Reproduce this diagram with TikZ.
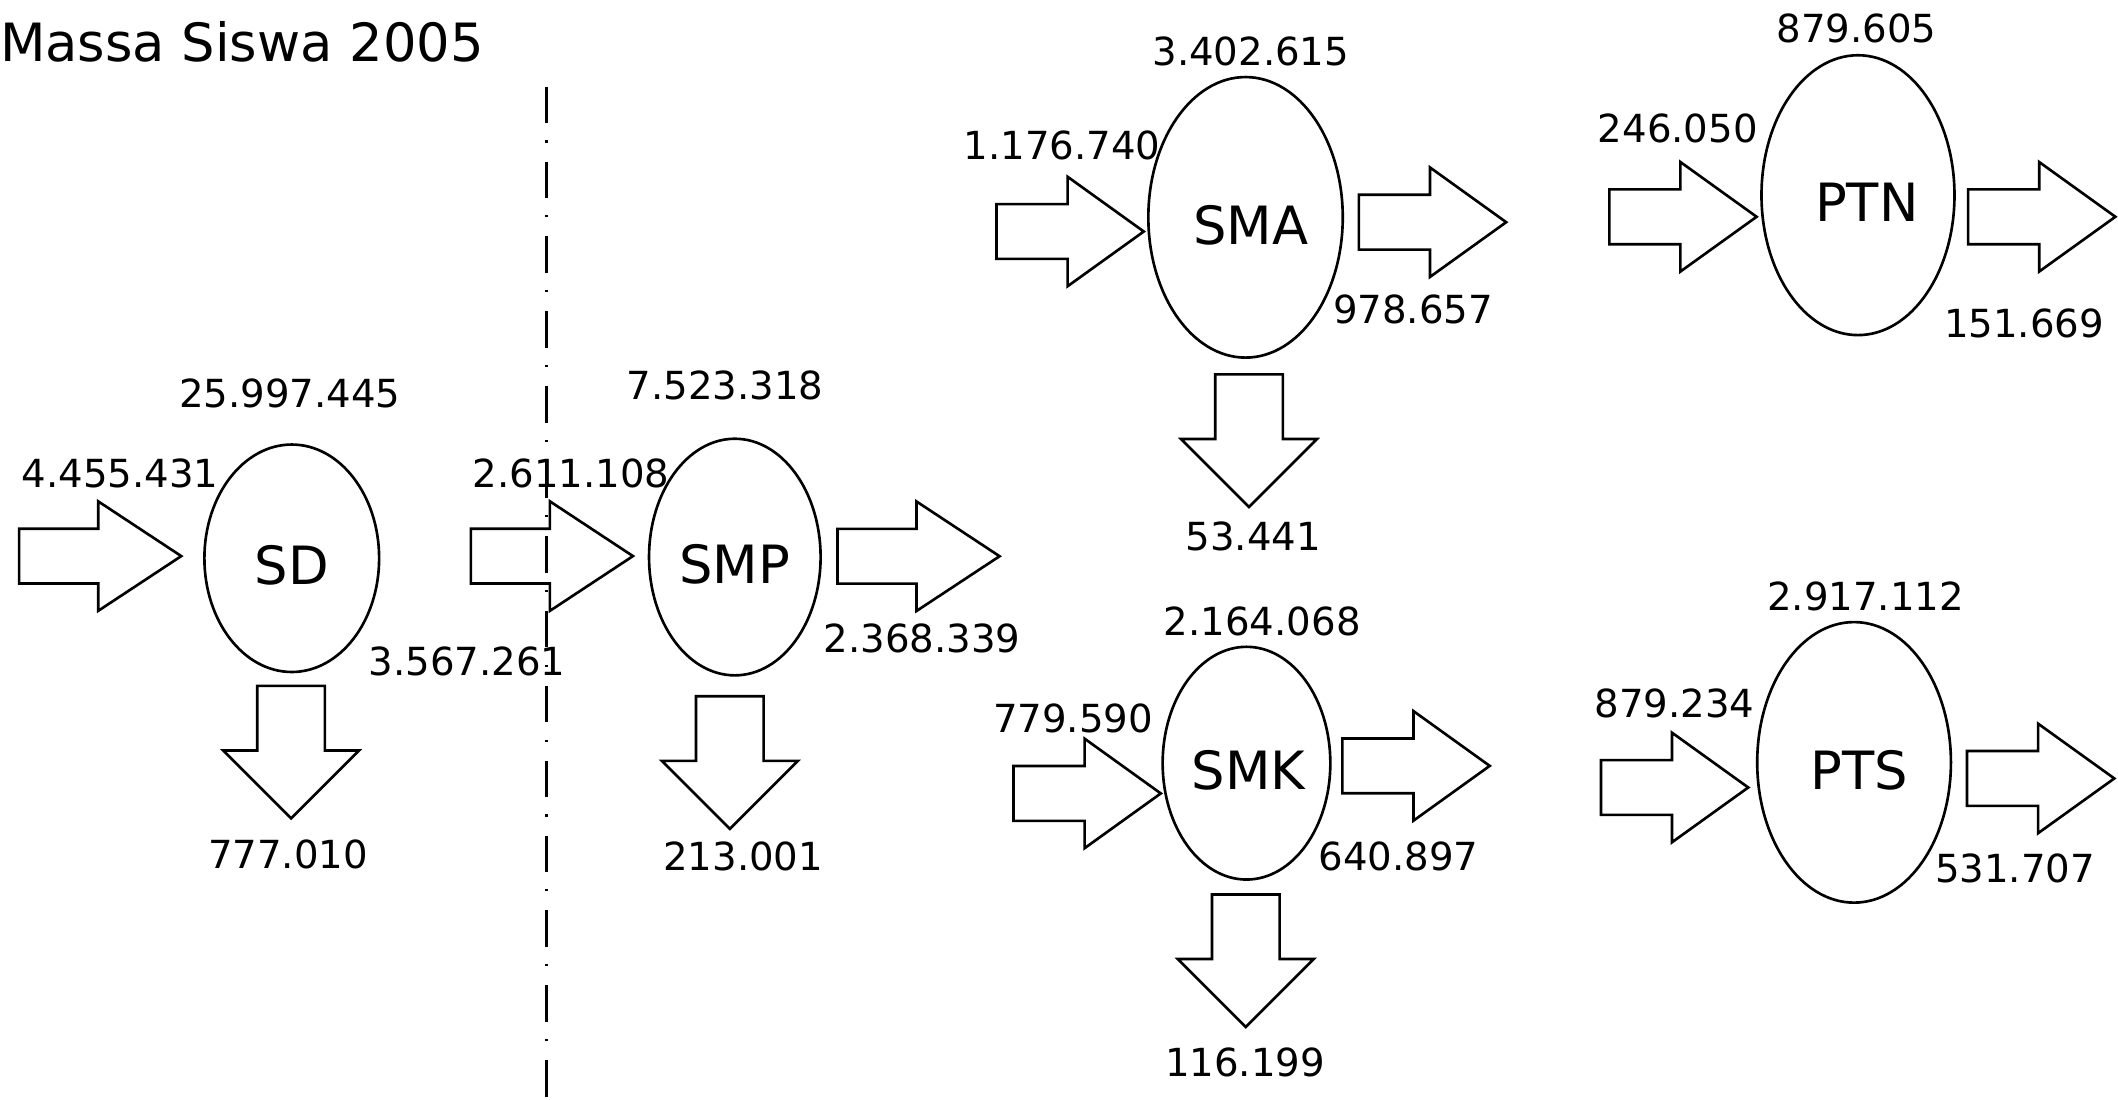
\documentclass[tikz,border=0pt]{standalone}
\usepackage{fontspec}
\setmainfont{DejaVu Sans}
\usepackage{tikz}
\usetikzlibrary{shapes.geometric,shapes.arrows}

\begin{document}
\begin{tikzpicture}[x=0.013508cm, y=-0.013508cm, every node/.style={outer sep=0pt, inner sep=0pt},
    school/.style={ellipse, draw, line width=0.75pt, text height=15.2pt, text depth=0pt, font=\fontsize{15pt}{18pt}\selectfont},
    flow/.style={single arrow, draw, line width=0.75pt, anchor=tail, inner xsep=0pt, inner ysep=7.42pt, single arrow head extend=7.78pt, minimum width=0pt, minimum height=41.9pt, single arrow tip angle=71.4},
    longflow/.style={flow, minimum height=46.1pt, single arrow tip angle=66.8},
    drop/.style={single arrow, draw, line width=0.75pt, anchor=tail, rotate=-90, inner xsep=0pt, inner ysep=9.24pt, single arrow head extend=9.72pt, minimum width=0pt, minimum height=37.7pt, single arrow tip angle=90},
    num/.style={anchor=base, font=\fontsize{11pt}{13pt}\selectfont}]
        \useasboundingbox (0,0) rectangle (1568,814);
        \node (title) [anchor=base west, font=\fontsize{15pt}{18pt}\selectfont] at (0,45.2) {Massa Siswa 2005};
        % separator
        \coordinate (sep-top) at (404.8,64.2);
        \coordinate (sep-bot) at (404.8,814);
        \draw [line width=0.9pt, dash pattern=on 10.4pt off 4.9pt on 0.6pt off 5.4pt] (sep-top) -- (sep-bot);
        % schools
        \node (SD) [school, minimum width=49.7pt, minimum height=64.7pt] at (216,413.3) {SD};
        \node (SMP) [school, minimum width=48.8pt, minimum height=67.3pt] at (544,412.4) {SMP};
        \node (SMA) [school, minimum width=55.3pt, minimum height=79.8pt] at (922.1,160.9) {\hspace*{3pt}SMA};
        \node (SMK) [school, minimum width=47.7pt, minimum height=66.2pt] at (922.8,565) {\hspace*{1.2pt}SMK};
        \node (PTN) [school, minimum width=54.9pt, minimum height=79.6pt] at (1375.5,144.5) {\hspace*{5pt}PTN};
        \node (PTS) [school, minimum width=55.1pt, minimum height=79.8pt] at (1372.6,564.4) {\hspace*{2.8pt}PTS};
        % block arrows
        \node (arr-SD-in) [longflow] at (14.2,411.7) {};
        \node (arr-SMP-in) [longflow] at (348.6,411.7) {};
        \node (arr-SMP-out) [longflow] at (620,411.8) {};
        \node (arr-SMA-in) [flow] at (737.7,171.4) {};
        \node (arr-SMA-out) [flow] at (1006,164.5) {};
        \node (arr-SMK-in) [flow] at (750.3,587.4) {};
        \node (arr-SMK-out) [flow] at (993.8,567) {};
        \node (arr-PTN-in) [flow] at (1191.4,160.5) {};
        \node (arr-PTN-out) [flow] at (1457,160.5) {};
        \node (arr-PTS-in) [flow] at (1185.2,583) {};
        \node (arr-PTS-out) [flow] at (1456.2,576.3) {};
        \node (arr-SD-drop) [drop] at (215.5,507.8) {};
        \node (arr-SMP-drop) [drop] at (540.3,515.5) {};
        \node (arr-SMA-drop) [drop] at (924.7,277.2) {};
        \node (arr-SMK-drop) [drop] at (922.3,662.2) {};
        % numbers
        \node (SD-total) [num] at (214.5,301.6) {25.997.445};
        \node (SD-in) [num] at (88.9,360.8) {4.455.431};
        \node (SD-drop) [num] at (213.2,642.8) {777.010};
        \node (SD-out) [num] at (345.9,500.4) {3.567.261};
        \node (SMP-total) [num] at (536.7,296) {7.523.318};
        \node (SMP-in) [num] at (422.7,360.8) {2.611.108};
        \node (SMP-drop) [num] at (550.2,644.8) {213.001};
        \node (SMP-out) [num] at (682.7,483) {2.368.339};
        \node (SMA-total) [num] at (926,48.7) {3.402.615};
        \node (SMA-in) [num] at (786.2,118.4) {1.176.740};
        \node (SMA-out) [num] at (1046.1,239.4) {978.657};
        \node (SMA-drop) [num] at (927.9,407.8) {53.441};
        \node (SMK-total) [num] at (934.5,470.8) {2.164.068};
        \node (SMK-in) [num] at (794.4,542.3) {779.590};
        \node (SMK-out) [num] at (1035.4,644.2) {640.897};
        \node (SMK-drop) [num] at (921.8,797.2) {116.199};
        \node (PTN-total) [num] at (1374.5,31.4) {879.605};
        \node (PTN-in) [num] at (1242.1,105.2) {246.050};
        \node (PTN-out) [num] at (1498.4,250.2) {151.669};
        \node (PTS-total) [num] at (1381.2,452) {2.917.112};
        \node (PTS-in) [num] at (1239.7,531.4) {879.234};
        \node (PTS-out) [num] at (1491.8,653.1) {531.707};
\end{tikzpicture}
\end{document}
